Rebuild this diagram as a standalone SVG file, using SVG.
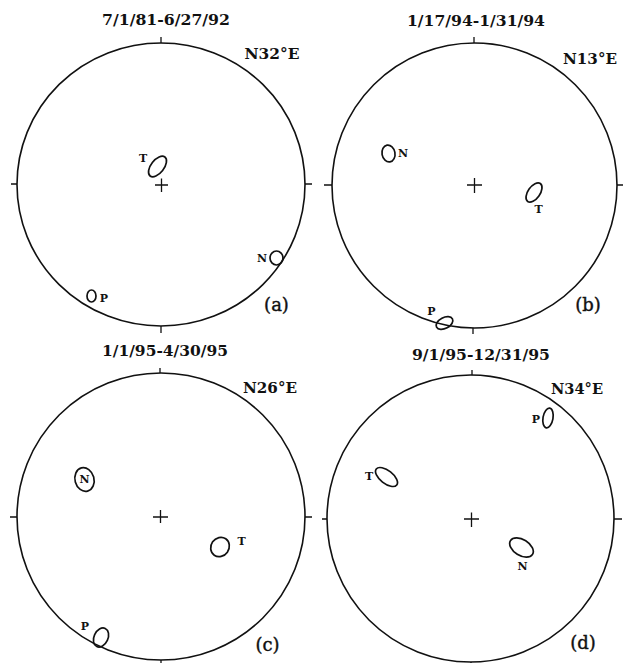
<svg xmlns="http://www.w3.org/2000/svg" width="628" height="663" viewBox="0 0 628 663">
<style>
.net{fill:none;stroke:#111;stroke-width:1.6}
.tk{stroke:#111;stroke-width:1.3}
.ct{fill:none;stroke:#111;stroke-width:1.7}
.ttl{font-family:"DejaVu Serif","Liberation Serif",serif;font-weight:bold;font-size:14px;fill:#111}
.az{font-family:"DejaVu Serif","Liberation Serif",serif;font-weight:bold;font-size:15px;fill:#111}
.lb{font-family:"DejaVu Serif","Liberation Serif",serif;font-weight:bold;font-size:11px;fill:#111}
.pn{font-family:"DejaVu Serif","Liberation Serif",serif;font-size:18px;fill:#111;stroke:#111;stroke-width:0.4}
</style>
<rect width="628" height="663" fill="#fff"/>
<g id="net-a">
  <ellipse class="net" cx="161" cy="184.5" rx="144" ry="141.5"/>
  <path class="tk" d="M161 37V43M161 326V333M11 184H17M305 184H312M155 185H168M161.5 178.5V192"/>
  <text class="ttl" x="166" y="25" text-anchor="middle" textLength="128" lengthAdjust="spacingAndGlyphs">7/1/81-6/27/92</text>
  <text class="az" x="272" y="59" text-anchor="middle" textLength="55" lengthAdjust="spacingAndGlyphs">N32°E</text>
  <text class="pn" x="276.5" y="311" text-anchor="middle">(a)</text>
  <ellipse class="ct" cx="157.5" cy="166.5" rx="12" ry="6.5" transform="rotate(-52 157.5 166.5)"/>
  <text class="lb" x="143" y="162" text-anchor="middle">T</text>
  <ellipse class="ct" cx="276.5" cy="258" rx="6.5" ry="7"/>
  <text class="lb" x="262" y="262" text-anchor="middle">N</text>
  <ellipse class="ct" cx="91.5" cy="296" rx="4.5" ry="6"/>
  <text class="lb" x="104" y="302" text-anchor="middle">P</text>
</g>
<g id="net-b">
  <circle class="net" cx="474.5" cy="185.5" r="142.5"/>
  <path class="tk" d="M474 37V43M473 328V334M324 185H332M617 185H623M467 185H482M474.5 178V193"/>
  <text class="ttl" x="476" y="26" text-anchor="middle" textLength="138" lengthAdjust="spacingAndGlyphs">1/17/94-1/31/94</text>
  <text class="az" x="590" y="64" text-anchor="middle" textLength="54" lengthAdjust="spacingAndGlyphs">N13°E</text>
  <text class="pn" x="588" y="311" text-anchor="middle">(b)</text>
  <ellipse class="ct" cx="388.5" cy="153.5" rx="6.5" ry="8.5" transform="rotate(-10 388.5 153.5)"/>
  <text class="lb" x="403" y="157" text-anchor="middle">N</text>
  <ellipse class="ct" cx="534" cy="192.5" rx="11" ry="6" transform="rotate(-55 534 192.5)"/>
  <text class="lb" x="538.5" y="213" text-anchor="middle">T</text>
  <ellipse class="ct" cx="444.5" cy="323" rx="9" ry="5.5" transform="rotate(-28 444.5 323)"/>
  <text class="lb" x="431.5" y="315" text-anchor="middle">P</text>
</g>
<g id="net-c">
  <ellipse class="net" cx="161" cy="516.5" rx="144" ry="143.5"/>
  <path class="tk" d="M160 368V373M161 660V663M10 517H17M305 517H312M153 517H168M160.5 510V523"/>
  <text class="ttl" x="165" y="356" text-anchor="middle" textLength="126" lengthAdjust="spacingAndGlyphs">1/1/95-4/30/95</text>
  <text class="az" x="270" y="393" text-anchor="middle" textLength="54" lengthAdjust="spacingAndGlyphs">N26°E</text>
  <text class="pn" x="267.5" y="651" text-anchor="middle">(c)</text>
  <ellipse class="ct" cx="84.5" cy="479.5" rx="9.5" ry="12" transform="rotate(-15 84.5 479.5)"/>
  <text class="lb" x="84.5" y="483" text-anchor="middle">N</text>
  <ellipse class="ct" cx="220" cy="547" rx="9" ry="10" transform="rotate(35 220 547)"/>
  <text class="lb" x="241.5" y="545" text-anchor="middle">T</text>
  <ellipse class="ct" cx="101" cy="637.5" rx="7" ry="10" transform="rotate(25 101 637.5)"/>
  <text class="lb" x="85" y="630" text-anchor="middle">P</text>
</g>
<g id="net-d">
  <circle class="net" cx="470.5" cy="518.5" r="143.5"/>
  <path class="tk" d="M472 370V375M471 662V663M322 519H327M614 519H622M464 519H479M471.5 512.5V527"/>
  <text class="ttl" x="481" y="360" text-anchor="middle" textLength="138" lengthAdjust="spacingAndGlyphs">9/1/95-12/31/95</text>
  <text class="az" x="577" y="394" text-anchor="middle" textLength="52" lengthAdjust="spacingAndGlyphs">N34°E</text>
  <text class="pn" x="583" y="649" text-anchor="middle">(d)</text>
  <ellipse class="ct" cx="548" cy="418" rx="5" ry="10" transform="rotate(10 548 418)"/>
  <text class="lb" x="536" y="423" text-anchor="middle">P</text>
  <ellipse class="ct" cx="386.5" cy="477" rx="13" ry="6.5" transform="rotate(38 386.5 477)"/>
  <text class="lb" x="369" y="480" text-anchor="middle">T</text>
  <ellipse class="ct" cx="521.5" cy="547.5" rx="13" ry="8" transform="rotate(32 521.5 547.5)"/>
  <text class="lb" x="522.5" y="570" text-anchor="middle">N</text>
</g>
</svg>
